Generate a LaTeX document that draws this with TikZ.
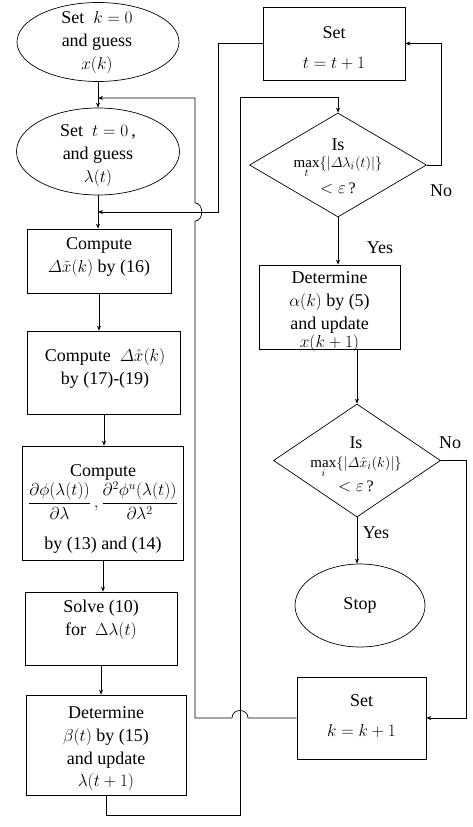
\documentclass[tikz,border=0pt]{standalone}
\usepackage{amsmath}
\usepackage{fontspec}
\setmainfont{Liberation Serif}
\usetikzlibrary{shapes.geometric,arrows.meta,calc}
\newcommand{\itDelta}{\mathnormal{\Delta}}
\begin{document}
\begin{tikzpicture}[x=1pt,y=-1pt,
  every node/.style={font=\fontsize{18}{23}\selectfont},
  shp/.style={draw, line width=0.7pt, inner sep=0pt},
  box/.style={shp, rectangle},
  oval/.style={shp, ellipse},
  dia/.style={shp, diamond},
  txt/.style={align=center, inner sep=0pt},
  lbl/.style={inner sep=0pt},
  arr/.style={-{Stealth[length=5pt,width=4pt]}, line width=0.7pt}]
\useasboundingbox (0,0) rectangle (472,827);
% shapes
\node[oval, minimum width=162, minimum height=79] (e1) at (98,42) {};
\node[oval, minimum width=163, minimum height=87] (e2) at (98,151.5) {};
\node[box, minimum width=144, minimum height=64] (b1) at (99,261) {};
\node[box, minimum width=153, minimum height=83] (b2) at (104,372.5) {};
\node[box, minimum width=161, minimum height=114] (b3) at (103,503) {};
\node[box, minimum width=152, minimum height=73] (b4) at (101,628.5) {};
\node[box, minimum width=160, minimum height=100] (b5) at (106,745) {};
\node[box, minimum width=142, minimum height=73] (bt) at (334,43.5) {};
\node[dia, minimum width=177, minimum height=104] (d1) at (338,165) {};
\node[box, minimum width=141, minimum height=84] (ba) at (329.5,307) {};
\node[dia, minimum width=167, minimum height=113] (d2) at (357,460.5) {};
\node[oval, minimum width=130, minimum height=83] (stop) at (360,605.5) {};
\node[box, minimum width=129, minimum height=82] (bk) at (361.5,718) {};
% texts
\node[txt] (e1t) at (97,43) {Set \ $k=0$\\and guess\\$x(k)$};
\node[txt] (e2t) at (98,156) {Set \ $t=0$\,,\\and guess\\$\lambda(t)$};
\node[txt] (b1t) at (99,257) {Compute\\$\itDelta\tilde{x}(k)$ by (16)};
\node[txt] (b2t) at (105,368) {Compute \ $\itDelta\hat{x}(k)$\\by (17)-(19)};
\node[txt] (b3t) at (103,509) {Compute\\[1pt]$\dfrac{\partial\phi(\lambda(t))}{\partial\lambda}\,,\dfrac{\partial^2\phi^u(\lambda(t))}{\partial\lambda^2}$\\[17pt]by (13) and (14)};
\node[txt] (b4t) at (101,620) {Solve (10)\\for \ $\Delta\lambda(t)$};
\node[txt] (b5t) at (106,749) {Determine\\$\beta(t)$ by (15)\\and update\\[-1pt]$\lambda(t+1)$};
\node[txt] (btt) at (334,48) {Set\\[7pt]$t=t+1$};
\node[txt] (d1t) at (338,166) {Is\\[-6pt]{\fontsize{15}{18}\selectfont$\max\limits_t\{|\itDelta\lambda_i(t)|\}$}\\[3pt]{\fontsize{16}{18}\selectfont$<\varepsilon$\,?}};
\node[txt] (bat) at (329.5,312) {Determine\\$\alpha(k)$ by (5)\\and update\\[-5pt]$x(k+1)$};
\node[txt] (d2t) at (356,464) {Is\\[-4pt]{\fontsize{15}{18}\selectfont$\max\limits_i\{|\itDelta\hat{x}_i(k)|\}$}\\[1pt]{\fontsize{16}{18}\selectfont$<\varepsilon$\,?}};
\node[txt] (stopt) at (stop) {Stop};
\node[txt] (bkt) at (361.5,716) {Set\\[7pt]$k=k+1$};
% labels
\node[lbl] (no1) at (441,191) {No};
\node[lbl] (yes1) at (380,248) {Yes};
\node[lbl] (no2) at (450,443) {No};
\node[lbl] (yes2) at (376,533) {Yes};
% junction coordinates
\coordinate (j1) at (98,98);
\coordinate (j2) at (98,212);
\coordinate (lb) at (240,815);
\coordinate (lt) at (240,97);
\coordinate (c2) at (218,212);
\coordinate (n1) at (441,165);
\coordinate (n2) at (466,460.5);
% connectors
\draw[arr] (e1.south) -- (e2.north);
\draw[arr] (e2.south) -- (e2.south |- b1.north);
\draw[arr] (b1.south) -- (b1.south |- b2.north);
\draw[arr] (b2.south) -- (b2.south |- b3.north);
\draw[arr] (b3.south) -- (b3.south |- b4.north);
\draw[arr] (b4.south) -- (b4.south |- b5.north);
\draw[arr] (b5.south) |- (lb) -- (lt) -| (d1.north);
\draw[arr] (d1.east) -- (n1) |- (bt.east);
\draw[arr] (bt.west) -| (c2) -- (j2);
\draw[arr] (d1.south) -- (d1.south |- ba.north);
\draw[arr] (ba.south -| d2.north) -- (d2.north);
\draw[arr] (d2.south) -- (d2.south |- stop.north);
\draw[arr] (d2.east) -- (n2) |- (bk.east);
\draw[arr] (bk.west) -- (248,718) .. controls (248,708) and (232,708) .. (232,718)
  -- (195,718) -- (195,221) .. controls (204,221) and (204,203) .. (195,203)
  -- (195,98) -- (j1);
\end{tikzpicture}
\end{document}
